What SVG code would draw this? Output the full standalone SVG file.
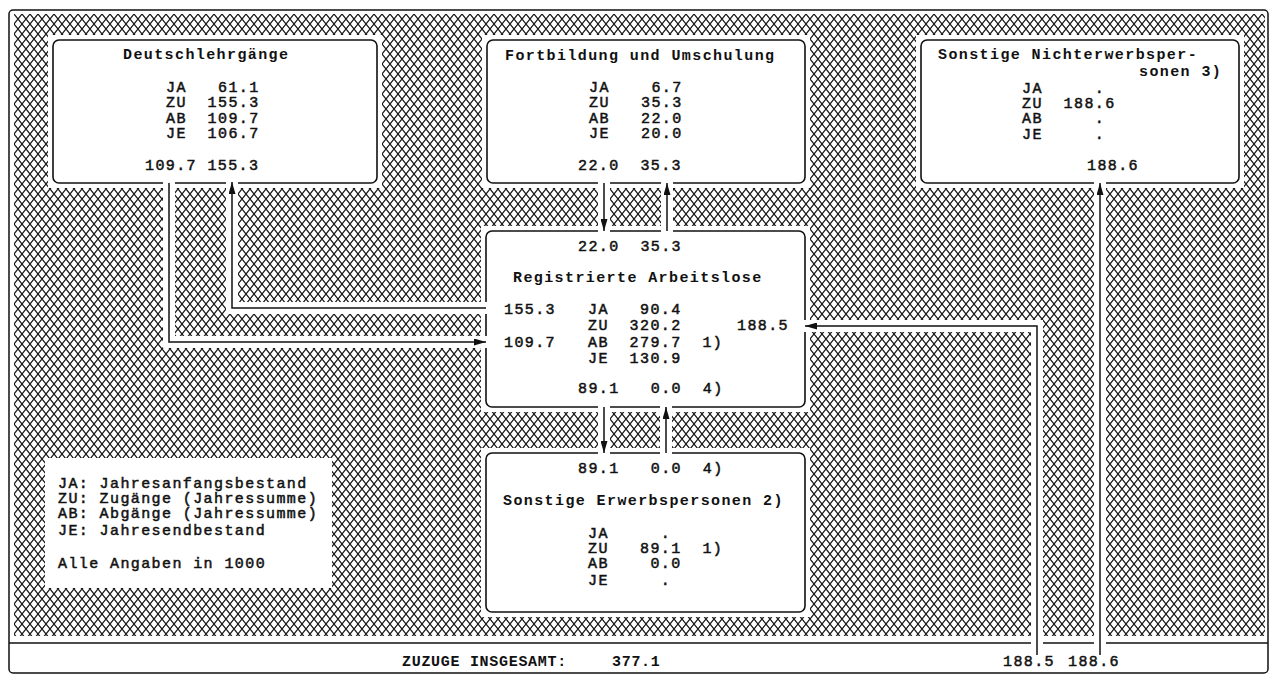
<svg xmlns="http://www.w3.org/2000/svg" width="1277" height="675" viewBox="0 0 1277 675" xml:space="preserve">
<defs>
<pattern id="mesh" patternUnits="userSpaceOnUse" x="14" y="14" width="8" height="10">
<path d="M0,0 L8,10 M8,0 L0,10" stroke="#151515" stroke-width="1.2" fill="none"/>
</pattern>
<marker id="arr" viewBox="0 0 12 7" refX="12" refY="3.5" markerWidth="12" markerHeight="7" markerUnits="userSpaceOnUse" orient="auto">
<path d="M0,0 L12,3.5 L0,7 z" fill="#111"/>
</marker>
<style>
text{font-family:"Liberation Mono","DejaVu Sans Mono",monospace;font-size:15px;letter-spacing:1.4px;fill:#111;white-space:pre}
.t{font-weight:bold}
.d{stroke:#111;stroke-width:0.5}
.box{fill:#fff;stroke:#111;stroke-width:1.6}
.clear{fill:#fff;stroke:none}
.ch{fill:none;stroke:#fff;stroke-width:12;stroke-linecap:butt;stroke-linejoin:miter}
.ln{fill:none;stroke:#111;stroke-width:1.5;marker-end:url(#arr)}
</style>
</defs>
<rect x="0" y="0" width="1277" height="675" fill="#fff"/>
<g id="background">
<rect x="14" y="14" width="1251" height="622" fill="url(#mesh)"/>
<rect class="clear" x="48" y="35" width="334" height="153"/>
<rect class="clear" x="482" y="35" width="328" height="153"/>
<rect class="clear" x="916" y="35" width="328" height="153"/>
<rect class="clear" x="481" y="226" width="329" height="186"/>
<rect class="clear" x="481" y="448" width="329" height="169"/>
<rect x="9" y="10" width="1259" height="663" rx="4" fill="none" stroke="#111" stroke-width="1.5"/>
<line x1="9" y1="643" x2="1268" y2="643" stroke="#111" stroke-width="1.4"/>
</g>
<g id="deutschlehrgaenge">
<rect class="box" x="53" y="40" width="324" height="143" rx="6"/>
<text class="t" x="123" y="59">Deutschlehrgänge</text>
<text class="d" x="166" y="92">JA   61.1</text>
<text class="d" x="166" y="107">ZU  155.3</text>
<text class="d" x="166" y="123">AB  109.7</text>
<text class="d" x="166" y="138">JE  106.7</text>
<text class="d" x="145" y="170">109.7 155.3</text>
</g>
<g id="fortbildung">
<rect class="box" x="487" y="40" width="318" height="143" rx="6"/>
<text class="t" x="505" y="60">Fortbildung und Umschulung</text>
<text class="d" x="589" y="92">JA    6.7</text>
<text class="d" x="589" y="107">ZU   35.3</text>
<text class="d" x="589" y="123">AB   22.0</text>
<text class="d" x="589" y="138">JE   20.0</text>
<text class="d" x="578" y="170">22.0  35.3</text>
</g>
<g id="nichterwerbspersonen">
<rect class="box" x="921" y="40" width="318" height="143" rx="6"/>
<text class="t" x="938" y="59">Sonstige Nichterwerbsper-</text>
<text class="t" x="1139" y="76">sonen 3)</text>
<text class="d" x="1022" y="93">JA     .</text>
<text class="d" x="1022" y="108">ZU  188.6</text>
<text class="d" x="1022" y="123">AB     .</text>
<text class="d" x="1022" y="139">JE     .</text>
<text class="d" x="1087" y="170">188.6</text>
</g>
<g id="arbeitslose">
<rect class="box" x="486" y="231" width="319" height="176" rx="6"/>
<text class="d" x="578" y="251">22.0  35.3</text>
<text class="t" x="513" y="282">Registrierte Arbeitslose</text>
<text class="d" x="504" y="314">155.3</text>
<text class="d" x="588" y="314">JA   90.4</text>
<text class="d" x="588" y="330">ZU  320.2</text>
<text class="d" x="737" y="330">188.5</text>
<text class="d" x="504" y="347">109.7</text>
<text class="d" x="588" y="347">AB  279.7  1)</text>
<text class="d" x="588" y="363">JE  130.9</text>
<text class="d" x="578" y="393">89.1   0.0  4)</text>
</g>
<g id="erwerbspersonen">
<rect class="box" x="486" y="453" width="319" height="159" rx="6"/>
<text class="d" x="578" y="473">89.1   0.0  4)</text>
<text class="t" x="503" y="505">Sonstige Erwerbspersonen 2)</text>
<text class="d" x="588" y="538">JA     .</text>
<text class="d" x="588" y="553">ZU   89.1  1)</text>
<text class="d" x="588" y="568">AB    0.0</text>
<text class="d" x="588" y="585">JE     .</text>
</g>
<g id="legend">
<rect class="clear" x="45" y="458" width="287" height="130"/>
<text class="d" x="58" y="488">JA: Jahresanfangsbestand</text>
<text class="d" x="58" y="503">ZU: Zugänge (Jahressumme)</text>
<text class="d" x="58" y="518">AB: Abgänge (Jahressumme)</text>
<text class="d" x="58" y="535">JE: Jahresendbestand</text>
<text class="d" x="58" y="568">Alle Angaben in 1000</text>
</g>
<g id="totals">
<text class="t" x="402" y="666" style="letter-spacing:0.7px">ZUZUGE INSGESAMT:</text>
<text class="t" x="612" y="666" style="letter-spacing:0.7px">377.1</text>
<text class="d" x="1003" y="666">188.5</text>
<text class="d" x="1068" y="666">188.6</text>
</g>
<g id="connectors">
<path class="ch" d="M169,180 V342 H490"/>
<path class="ch" d="M490,308 H232 V179"/>
<path class="ch" d="M604,179 V235"/>
<path class="ch" d="M667,179 V235"/>
<path class="ch" d="M604,403 V457"/>
<path class="ch" d="M666,403 V457"/>
<path class="ch" d="M1037,650 V326 H801"/>
<path class="ch" d="M1100,650 V179"/>
<path class="ln" d="M169,183 V342 H486"/>
<path class="ln" d="M486,308 H232 V182"/>
<path class="ln" d="M604,183 V231"/>
<path class="ln" d="M667,231 V183"/>
<path class="ln" d="M604,407 V453"/>
<path class="ln" d="M666,453 V407"/>
<path class="ln" d="M1037,655 V326 H805"/>
<path class="ln" d="M1100,655 V183"/>
</g>
</svg>
